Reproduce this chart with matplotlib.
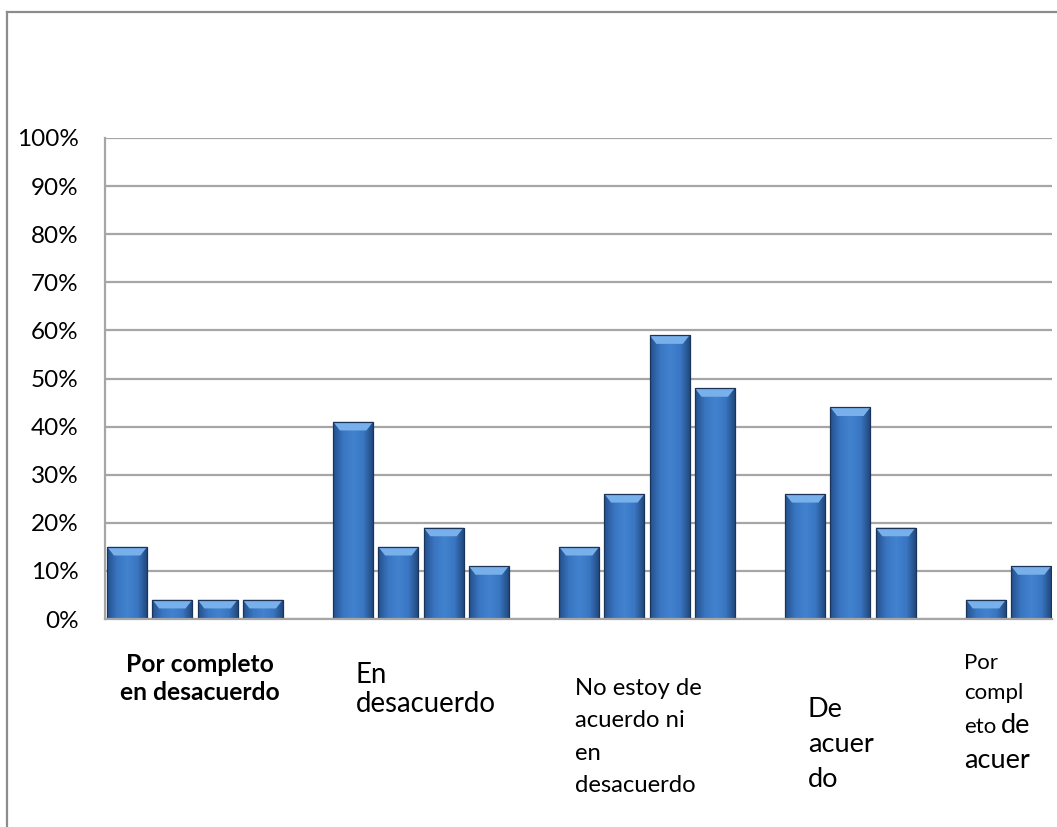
import matplotlib
matplotlib.use("Agg")
import matplotlib.pyplot as plt
import numpy as np
from matplotlib.colors import LinearSegmentedColormap
from matplotlib.patches import Polygon

# Likert answers, four groups of respondents per answer (share of answers)
categories = [
    "Por completo en desacuerdo",
    "En desacuerdo",
    "No estoy de acuerdo ni en desacuerdo",
    "De acuerdo",
    "Por completo de acuerdo",
]
por_completo_desacuerdo = [0.15, 0.04, 0.04, 0.04]
en_desacuerdo = [0.41, 0.15, 0.19, 0.11]
ni_acuerdo_ni_desacuerdo = [0.15, 0.26, 0.59, 0.48]
de_acuerdo = [0.26, 0.44, 0.19]
por_completo_acuerdo = [0.04, 0.11]
y_ticks = [0.0, 0.1, 0.2, 0.3, 0.4, 0.5, 0.6, 0.7, 0.8, 0.9, 1.0]

groups = [por_completo_desacuerdo, en_desacuerdo, ni_acuerdo_ni_desacuerdo,
          de_acuerdo, por_completo_acuerdo]
# first bar slot of every group on the x axis
group_start = [0, 5, 10, 15, 19]

W, H = 1057, 827
plt.rcParams["font.family"] = ["Lato", "DejaVu Sans"]

fig = plt.figure(figsize=(W / 100, H / 100), dpi=100)


def px(x, y):
    return x / W, 1 - y / H


def caption(x, baselines, lines, **kw):
    for y, line in zip(baselines, lines):
        fig.text(*px(x, y), line, va="baseline", **kw)


ax = fig.add_axes([105 / W, 1 - 619 / H, (1052 - 105) / W, (619 - 138) / H])

xs, ys = [], []
for start, vals in zip(group_start, groups):
    for i, v in enumerate(vals):
        xs.append(start + i)
        ys.append(v)

bar_w = 0.885
bars = ax.bar(xs, ys, width=bar_w, color="#3a74bf", edgecolor="none", zorder=2)

cmap = LinearSegmentedColormap.from_list(
    "bevel", ["#24508c", "#3a76c2", "#4282cf", "#3a76c2", "#1f4679"])
grad = np.linspace(0, 1, 64).reshape(1, -1)
bev_dy = 0.018
bev_dx = 0.15
for rect in bars:
    x0, w, h = rect.get_x(), rect.get_width(), rect.get_height()
    im = ax.imshow(grad, extent=[x0, x0 + w, 0, h], aspect="auto",
                   cmap=cmap, zorder=2.1, interpolation="bicubic")
    im.set_clip_path(rect)
    top = Polygon([(x0, h), (x0 + w, h), (x0 + w - bev_dx, h - bev_dy),
                   (x0 + bev_dx, h - bev_dy)],
                  closed=True, facecolor="#78b0ec", edgecolor="none", zorder=2.2)
    ax.add_patch(top)
ax.bar(xs, ys, width=bar_w, fill=False, edgecolor="#1b355a", linewidth=0.9, zorder=2.3)

ax.set_xlim(-0.49, 20.46)
ax.set_ylim(0, 1)
ax.set_yticks(y_ticks)
ax.set_yticklabels([f"{int(round(t * 100))}%" for t in y_ticks], fontsize=17.5)
ax.set_xticks([])
ax.tick_params(axis="y", length=0, pad=19, colors="#000000")
ax.grid(axis="y", color="#a6a6a6", linewidth=1.6, zorder=1)
ax.set_axisbelow(True)
for side in ("top", "right"):
    ax.spines[side].set_visible(False)
for side in ("left", "bottom"):
    ax.spines[side].set_color("#a6a6a6")
    ax.spines[side].set_linewidth(1.6)

# outer chart frame (cut at the right and bottom edges)
fig.add_artist(plt.Line2D([7 / W, 1.0], [1 - 12 / H, 1 - 12 / H],
                          color="#8c8c8c", linewidth=1.6, transform=fig.transFigure))
fig.add_artist(plt.Line2D([7 / W, 7 / W], [1 - 12 / H, 0.0],
                          color="#8c8c8c", linewidth=1.6, transform=fig.transFigure))

# category captions, each one in its own text box
caption(200, [672, 700], ["Por completo", "en desacuerdo"], ha="center",
        fontsize=17.7, fontweight="bold")
caption(356, [683, 712], ["En", "desacuerdo"], ha="left", fontsize=19.9)
caption(575, [695, 727, 760, 792], ["No estoy de", "acuerdo ni", "en", "desacuerdo"],
        ha="left", fontsize=17.2)
caption(808, [717, 752, 787], ["De", "acuer", "do"], ha="left", fontsize=19.5)
caption(964, [669, 699, 733], ["Por", "compl", "eto"], ha="left", fontsize=16)
caption(1001, [733], ["de"], ha="left", fontsize=19.5)
caption(964, [768], ["acuer"], ha="left", fontsize=19.5)

fig.savefig("out.png", dpi=100, facecolor="white")
